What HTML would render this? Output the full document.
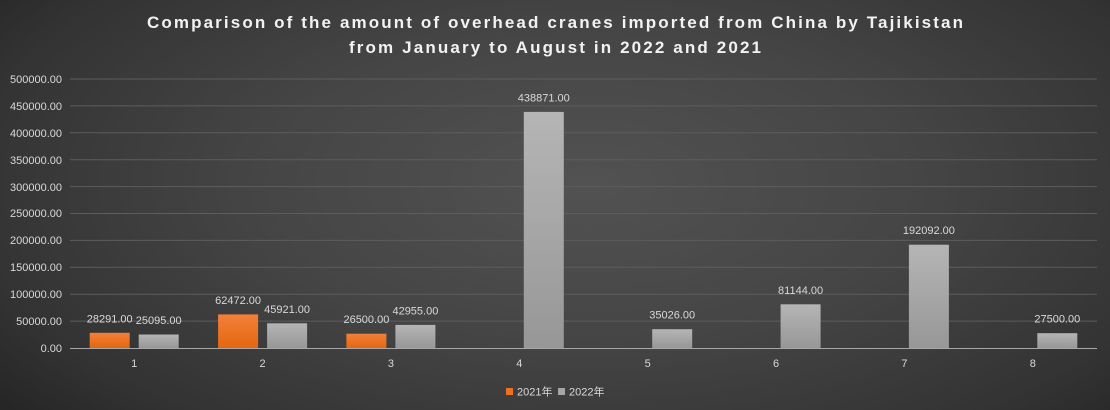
<!DOCTYPE html>
<html><head><meta charset="utf-8"><style>
html,body{margin:0;padding:0;}
body{width:1110px;height:410px;overflow:hidden;background:radial-gradient(ellipse 75% 95% at 53% 45%,#525252 0%,#454545 40%,#333333 75%,#1e1e1e 100%);}
svg{display:block;font-family:"Liberation Sans","Noto Sans CJK SC",sans-serif;}
</style></head><body>
<svg width="1110" height="410" viewBox="0 0 1110 410" xmlns="http://www.w3.org/2000/svg">
<defs>
<linearGradient id="og" x1="0" y1="0" x2="0" y2="1"><stop offset="0" stop-color="#f3803a"/><stop offset="1" stop-color="#e4670f"/></linearGradient>
<linearGradient id="gg" x1="0" y1="0" x2="0" y2="1"><stop offset="0" stop-color="#b5b5b5"/><stop offset="1" stop-color="#979797"/></linearGradient>
</defs>
<g fill="#f2f2f2" font-weight="bold" font-size="17" text-anchor="middle">
<text x="555" y="28" textLength="816" lengthAdjust="spacing">Comparison of the amount of overhead cranes imported from China by Tajikistan</text>
<text x="555" y="53" textLength="412" lengthAdjust="spacing">from January to August in 2022 and 2021</text>
</g>
<g stroke="#5d5d5d" stroke-width="1">
<line x1="70" x2="1097" y1="321.1" y2="321.1"/>
<line x1="70" x2="1097" y1="294.2" y2="294.2"/>
<line x1="70" x2="1097" y1="267.3" y2="267.3"/>
<line x1="70" x2="1097" y1="240.4" y2="240.4"/>
<line x1="70" x2="1097" y1="213.5" y2="213.5"/>
<line x1="70" x2="1097" y1="186.6" y2="186.6"/>
<line x1="70" x2="1097" y1="159.7" y2="159.7"/>
<line x1="70" x2="1097" y1="132.8" y2="132.8"/>
<line x1="70" x2="1097" y1="105.9" y2="105.9"/>
<line x1="70" x2="1097" y1="79" y2="79"/>
</g>
<g fill="#d9d9d9" font-size="11" text-anchor="end">
<text x="62" y="352">0.00</text>
<text x="62" y="325">50000.00</text>
<text x="62" y="298">100000.00</text>
<text x="62" y="271">150000.00</text>
<text x="62" y="244">200000.00</text>
<text x="62" y="217">250000.00</text>
<text x="62" y="191">300000.00</text>
<text x="62" y="164">350000.00</text>
<text x="62" y="137">400000.00</text>
<text x="62" y="110">450000.00</text>
<text x="62" y="83">500000.00</text>
</g>
<g>
<rect x="89.7" y="332.8" width="40" height="15.2" fill="url(#og)"/>
<rect x="138.7" y="334.5" width="40" height="13.5" fill="url(#gg)"/>
<rect x="218.1" y="314.4" width="40" height="33.6" fill="url(#og)"/>
<rect x="267.1" y="323.3" width="40" height="24.7" fill="url(#gg)"/>
<rect x="346.4" y="333.7" width="40" height="14.3" fill="url(#og)"/>
<rect x="395.4" y="324.9" width="40" height="23.1" fill="url(#gg)"/>
<rect x="523.8" y="111.9" width="40" height="236.1" fill="url(#gg)"/>
<rect x="652.2" y="329.2" width="40" height="18.8" fill="url(#gg)"/>
<rect x="780.6" y="304.3" width="40" height="43.7" fill="url(#gg)"/>
<rect x="908.9" y="244.7" width="40" height="103.3" fill="url(#gg)"/>
<rect x="1037.3" y="333.2" width="40" height="14.8" fill="url(#gg)"/>
</g>
<line x1="70" x2="1097" y1="348.5" y2="348.5" stroke="#a6a6a6" stroke-width="1"/>
<g fill="#d9d9d9" font-size="11" text-anchor="middle">
<text x="109.7" y="322.3">28291.00</text>
<text x="158.7" y="324">25095.00</text>
<text x="238.1" y="303.9">62472.00</text>
<text x="287.1" y="312.8">45921.00</text>
<text x="366.4" y="323.2">26500.00</text>
<text x="415.4" y="314.4">42955.00</text>
<text x="543.8" y="101.4">438871.00</text>
<text x="672.2" y="318.7">35026.00</text>
<text x="800.6" y="293.8">81144.00</text>
<text x="928.9" y="234.2">192092.00</text>
<text x="1057.3" y="322.7">27500.00</text>
</g>
<g fill="#d9d9d9" font-size="11" text-anchor="middle">
<text x="134.2" y="367">1</text>
<text x="262.6" y="367">2</text>
<text x="390.9" y="367">3</text>
<text x="519.3" y="367">4</text>
<text x="647.7" y="367">5</text>
<text x="776.1" y="367">6</text>
<text x="904.4" y="367">7</text>
<text x="1032.8" y="367">8</text>
</g>
<rect x="506" y="388" width="7" height="7" fill="#ed7125"/>
<text x="517" y="395.5" fill="#d9d9d9" font-size="11">2021年</text>
<rect x="558" y="388" width="7" height="7" fill="#a5a5a5"/>
<text x="569" y="395.5" fill="#d9d9d9" font-size="11">2022年</text>
</svg>
</body></html>
